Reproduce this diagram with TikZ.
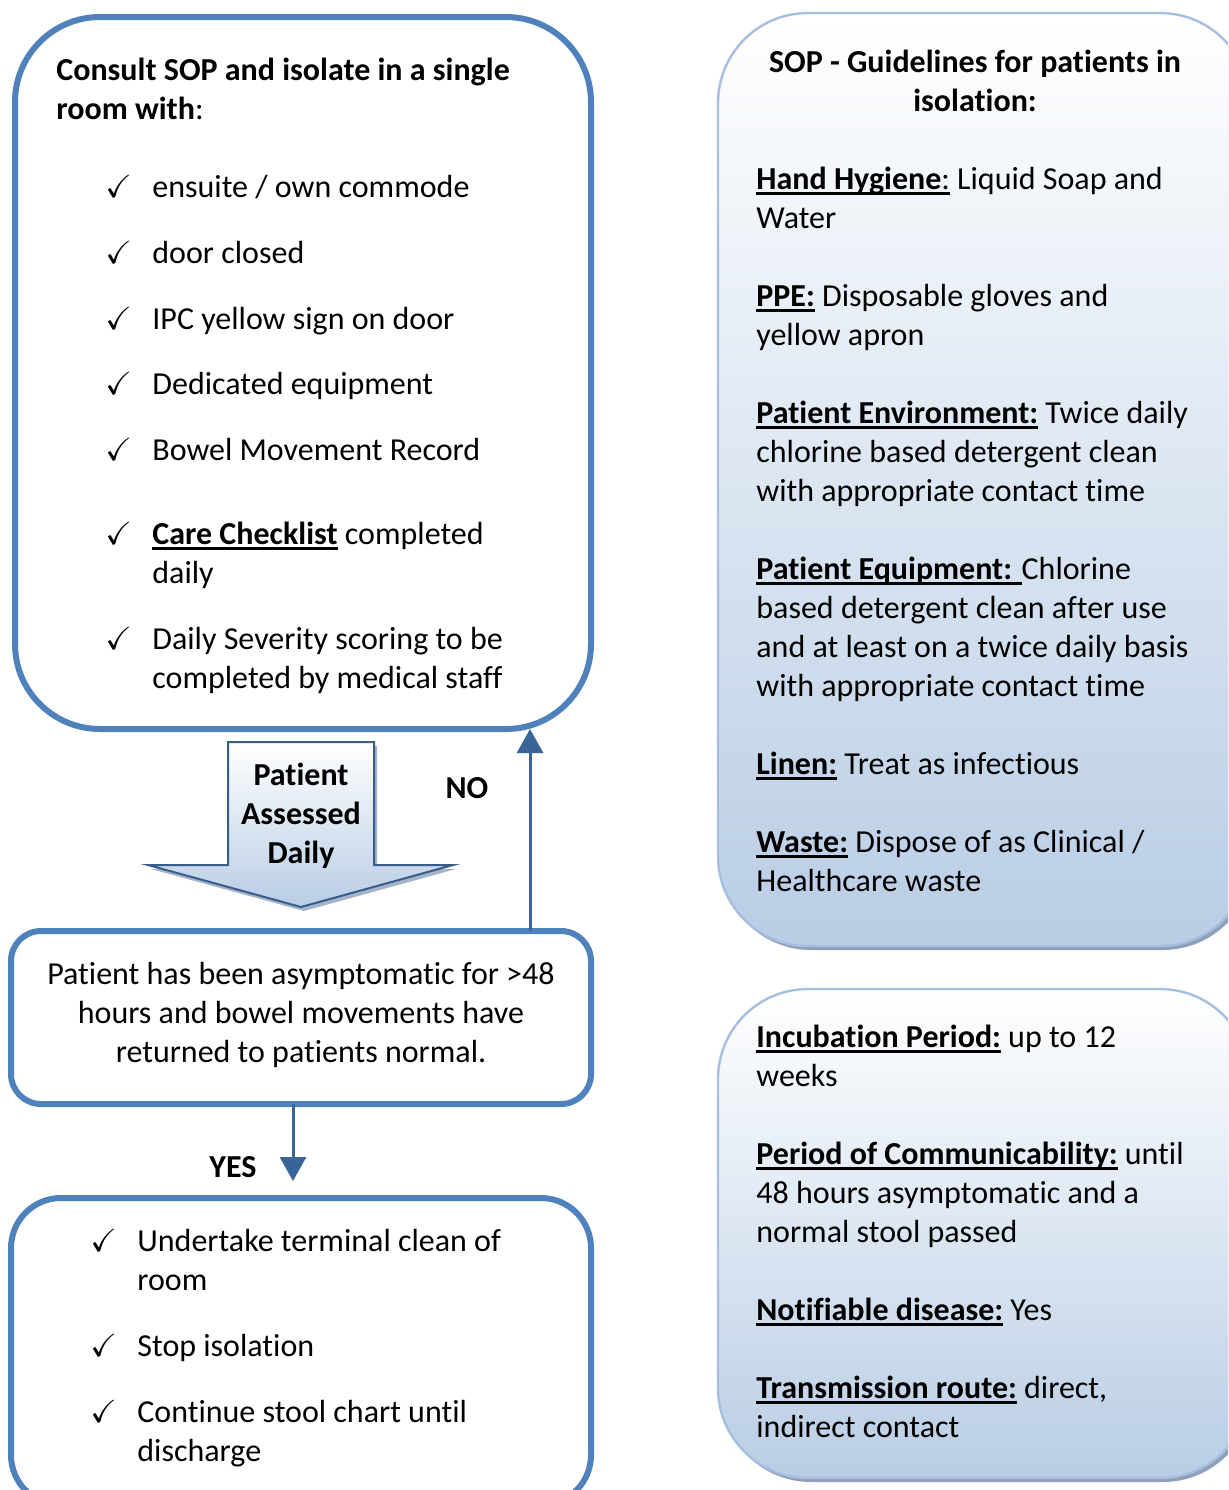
\documentclass[tikz,border=0pt]{standalone}
\usepackage{fontspec}
\setmainfont{Carlito}[Ligatures=NoCommon]
\usepackage{amssymb}
\usetikzlibrary{arrows.meta,shadows}
\definecolor{boxblue}{HTML}{4F81BD}
\definecolor{darkblue}{HTML}{385D8A}
\definecolor{linkblue}{HTML}{3A6397}
\definecolor{lightborder}{HTML}{A7BFDE}
\definecolor{fillblue}{HTML}{B9CDE5}
\definecolor{shadowgray}{HTML}{8FA1BA}
\newsavebox\ulbox
\newcommand\ulb[1]{\sbox\ulbox{#1}\rlap{\rule[-2.7pt]{\wd\ulbox}{1.25pt}}\usebox\ulbox}
\begin{document}
\begin{tikzpicture}[x=0.5pt,y=-0.5pt,
 every node/.style={font=\fontsize{16pt}{19.5pt}\selectfont},
 lbox/.style={draw=boxblue, line width=3pt, fill=white, rectangle, inner sep=0pt, outer sep=0pt},
 rbox/.style={draw=lightborder, line width=1.2pt, rectangle, inner sep=0pt, outer sep=0pt,
   top color=white, bottom color=fillblue,
   drop shadow={shadow xshift=1.5pt, shadow yshift=-2pt, fill=shadowgray, opacity=1}},
 txt/.style={anchor=north west, inner sep=0pt, yshift=12.15pt, align=left},
 ctxt/.style={anchor=north, inner sep=0pt, yshift=12.15pt, align=center},
 chk/.style={anchor=north west, inner sep=0pt, yshift=12.15pt},
 lbl/.style={anchor=base, inner sep=0pt, font=\fontsize{16pt}{19.5pt}\selectfont\bfseries},
 link/.style={draw=linkblue, line width=1.5pt, -{Triangle[width=13pt,length=12pt]}},
]
\useasboundingbox (0,0) rectangle (1228,1490);
\clip (0,0) rectangle (1228,1490);

% ---------- left column boxes ----------
\node[lbox, rounded corners=42.5pt, minimum width=288pt, minimum height=356pt] (b1) at (303,373) {};
\node[lbox, rounded corners=15pt, minimum width=290pt, minimum height=86.5pt] (b3) at (301,1017.5) {};
\node[lbox, rounded corners=25pt, minimum width=290pt, minimum height=153.5pt] (b4) at (301,1351.5) {};

% ---------- right column boxes ----------
\node[rbox, rounded corners=45pt, minimum width=266pt, minimum height=466.5pt] (ra) at (984,479.5) {};
\node[rbox, rounded corners=45pt, minimum width=266pt, minimum height=244.5pt] (rb) at (984,1233.5) {};

% ---------- block arrow ----------
\begin{scope}[shift={(3,4)}]
\fill[shadowgray, opacity=0.8] (228,742) -- (374,742) -- (374,865) -- (453,865) -- (301,907) -- (148,865) -- (228,865) -- cycle;
\end{scope}
\path[draw=darkblue, line width=1pt, top color=white, bottom color=fillblue]
  (228,742) -- (374,742) -- (374,865) -- (453,865) -- (301,907) -- (148,865) -- (228,865) -- cycle;
\node[ctxt, font=\fontsize{16pt}{19.5pt}\selectfont\bfseries] (pad) at (301,782) {\strut Patient\\Assessed\\Daily};

% ---------- connectors ----------
\coordinate (noX) at (530,0);
\draw[link] (noX |- b3.north) -- (noX |- b1.south);
\coordinate (yesEnd) at (293,1181);
\draw[link] (yesEnd |- b3.south) -- (yesEnd);
\node[lbl] (no) at (467,798) {NO};
\node[lbl] (yes) at (233,1177) {YES};

% ---------- box 1 text ----------
\node[txt] (t1) at (56,77) {\strut\textbf{Consult SOP and isolate in a single}\\\textbf{room with}:};
\foreach \y/\t [count=\i] in {
  194/{ensuite / own commode},
  260/{door closed},
  326/{IPC yellow sign on door},
  391/{Dedicated equipment},
  457/{Bowel Movement Record},
  541/{\ulb{\textbf{Care Checklist}} completed\\daily},
  646/{Daily Severity scoring to be\\completed by medical staff}}{
  \node[chk] (ca\i) at (105,\y) {\strut$\checkmark$};
  \node[txt] (ia\i) at (152,\y) {\strut\t};
}

% ---------- box 3 text ----------
\node[ctxt] (t3) at (301,981) {\strut Patient has been asymptomatic for >48\\hours and bowel movements have\\returned to patients normal.};

% ---------- box 4 text ----------
\foreach \y/\t [count=\i] in {
  1248/{Undertake terminal clean of\\room},
  1353/{Stop isolation},
  1419/{Continue stool chart until\\discharge}}{
  \node[chk] (cb\i) at (90,\y) {\strut$\checkmark$};
  \node[txt] (ib\i) at (137,\y) {\strut\t};
}

% ---------- right box A text ----------
\node[ctxt, font=\fontsize{16pt}{19.5pt}\selectfont\bfseries] (ta) at (975,69) {\strut SOP - Guidelines for patients in\\isolation:};
\node[txt] (ba) at (756,186) {\strut\ulb{\textbf{Hand Hygiene}}\ulb{:} Liquid Soap and\\Water\\[19.5pt]
\ulb{\textbf{PPE:}} Disposable gloves and\\yellow apron\\[19.5pt]
\ulb{\textbf{Patient Environment:}} Twice daily\\chlorine based detergent clean\\with appropriate contact time\\[19.5pt]
\ulb{\textbf{Patient Equipment: }}Chlorine\\based detergent clean after use\\and at least on a twice daily basis\\with appropriate contact time\\[19.5pt]
\ulb{\textbf{Linen:}} Treat as infectious\\[19.5pt]
\ulb{\textbf{Waste:}} Dispose of as Clinical /\\Healthcare waste};

% ---------- right box B text ----------
\node[txt] (bb) at (756,1044) {\strut\ulb{\textbf{Incubation Period:}} up to 12\\weeks\\[19.5pt]
\ulb{\textbf{Period of Communicability:}} until\\48 hours asymptomatic and a\\normal stool passed\\[19.5pt]
\ulb{\textbf{Notifiable disease:}} Yes\\[19.5pt]
\ulb{\textbf{Transmission route:}} direct,\\indirect contact};
\end{tikzpicture}
\end{document}
